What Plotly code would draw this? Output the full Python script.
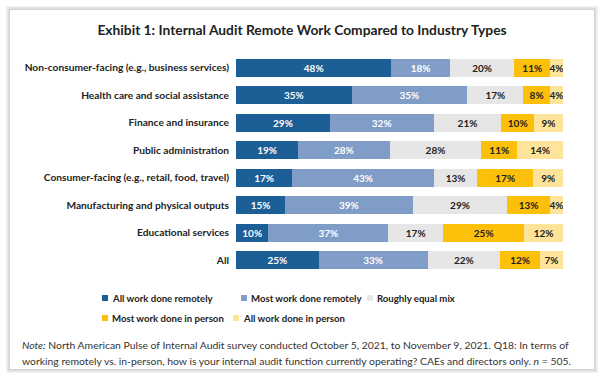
import plotly.graph_objects as go

categories = [
    "Non-consumer-facing (e.g., business services)",
    "Health care and social assistance",
    "Finance and insurance",
    "Public administration",
    "Consumer-facing (e.g., retail, food, travel)",
    "Manufacturing and physical outputs",
    "Educational services",
    "All",
]
all_remote = [48, 35, 29, 19, 17, 15, 10, 25]
most_remote = [18, 35, 32, 28, 43, 39, 37, 33]
equal_mix = [20, 17, 21, 28, 13, 29, 17, 22]
most_person = [11, 8, 10, 11, 17, 13, 25, 12]
all_person = [4, 4, 9, 14, 9, 4, 12, 7]

series_names = [
    "All work done remotely",
    "Most work done remotely",
    "Roughly equal mix",
    "Most work done in person",
    "All work done in person",
]
series_values = [all_remote, most_remote, equal_mix, most_person, all_person]
colors = ["#1c5e96", "#7f9dc7", "#e6e6e6", "#fcbf0a", "#fde49a"]
text_colors = ["white", "white", "#222222", "#222222", "#222222"]

W, H = 604, 378
L, R, T, B = 236, 41, 54, 104
PW = W - L - R
PH = H - T - B

def px(p):
    return (p - L) / PW

def py(p):
    return (H - B - p) / PH

FONT = "Lato"
INK = "#222222"

fig = go.Figure()
for name, vals, c, tc in zip(series_names, series_values, colors, text_colors):
    fig.add_trace(go.Bar(
        y=categories, x=vals, name=name, orientation="h",
        marker=dict(color=c, line=dict(width=0)),
        text=[f"{v}%" for v in vals], textposition="inside",
        insidetextanchor="middle", textangle=0,
        textfont=dict(color=tc, size=10, family=FONT, weight="bold"),
        showlegend=False, hoverinfo="skip",
    ))

shapes = []
# card with soft shadow
for off, col in [(4, "#f3f3f3"), (3, "#e9e9e9"), (2, "#dedede"), (1, "#d3d3d3")]:
    shapes.append(dict(type="rect", xref="paper", yref="paper",
                       x0=px(10 - off), x1=px(594 + off), y0=py(369 + off), y1=py(10 - off),
                       line=dict(width=0), fillcolor=col, layer="below"))
shapes.append(dict(type="rect", xref="paper", yref="paper",
                   x0=px(10), x1=px(594), y0=py(369), y1=py(10),
                   line=dict(width=0), fillcolor="white", layer="below"))

# legend (key squares + labels), laid out as in the reference
legend_pos = [(102, 298), (241, 298), (367, 298), (102, 318), (233, 318)]
annotations = []
for name, c, (lx, ly) in zip(series_names, colors, legend_pos):
    shapes.append(dict(type="rect", xref="paper", yref="paper",
                       x0=px(lx), x1=px(lx + 6), y0=py(ly + 3), y1=py(ly - 3),
                       line=dict(width=0), fillcolor=c))
    annotations.append(dict(text=name, xref="paper", yref="paper",
                            x=px(lx + 7.5), y=py(ly), xanchor="left", yanchor="middle",
                            showarrow=False,
                            font=dict(family=FONT, size=9.6, weight="bold", color=INK)))

note_lines = [
    "<i>Note:</i> North American Pulse of Internal Audit survey conducted October 5, 2021, to November 9, 2021. Q18: In terms of",
    "working remotely vs. in-person, how is your internal audit function currently operating? CAEs and directors only. <i>n</i> = 505.",
]
for line, ly in zip(note_lines, [345, 361]):
    annotations.append(dict(text=line, xref="paper", yref="paper",
                            x=px(20), y=py(ly), xanchor="left", yanchor="middle",
                            align="left", showarrow=False,
                            font=dict(family=FONT, size=10.4, color="#333333")))

fig.update_layout(
    width=W, height=H,
    margin=dict(l=L, r=R, t=T, b=B),
    barmode="stack", barnorm="percent", bargap=0.34,
    paper_bgcolor="white", plot_bgcolor="rgba(0,0,0,0)",
    font=dict(family=FONT, size=10, color=INK),
    uniformtext=dict(minsize=10, mode="show"),
    showlegend=False,
    title=dict(text="Exhibit 1: Internal Audit Remote Work Compared to Industry Types",
               x=0.5, xref="container", xanchor="center", y=1 - 30 / H, yanchor="middle",
               font=dict(family=FONT, size=13.8, weight="bold", color=INK)),
    xaxis=dict(visible=False, range=[0, 100], fixedrange=True, automargin=False),
    yaxis=dict(autorange="reversed", showgrid=False, ticks="", showline=False,
               automargin=False, fixedrange=True,
               tickfont=dict(family=FONT, size=10.2, weight="bold", color=INK),
               ticklabelstandoff=6),
    shapes=shapes,
    annotations=annotations,
)

fig.write_html("out.html",
               config={"displayModeBar": False, "staticPlot": True},
               post_script="document.body.style.margin='0';document.body.style.overflow='hidden';")
